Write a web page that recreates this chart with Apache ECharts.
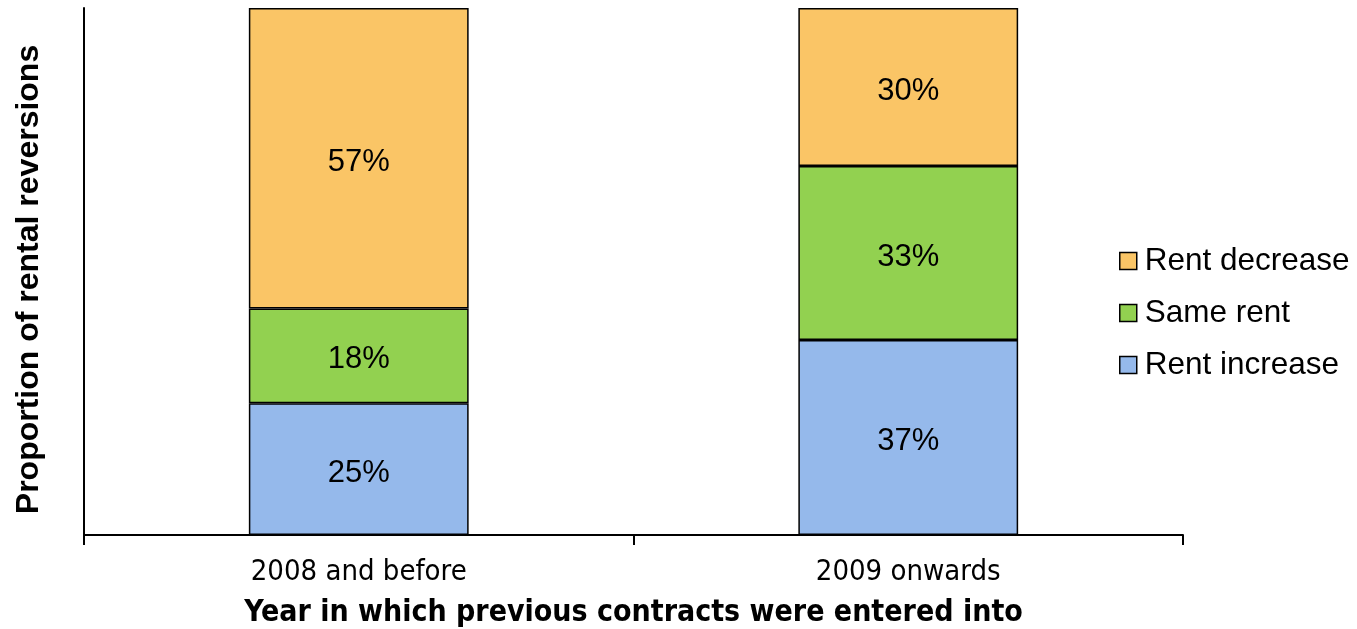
<!DOCTYPE html>
<html>
<head>
<meta charset="utf-8">
<script src="https://cdn.jsdelivr.net/npm/echarts@6/dist/echarts.min.js"></script>
<style>
html,body{margin:0;padding:0;background:#fff;}
#chart{width:1357px;height:629px;}
</style>
</head>
<body>
<div id="chart"></div>
<script>
const categories = ['2008 and before', '2009 onwards'];
const rentIncrease = [25, 37];
const sameRent = [18, 33];
const rentDecrease = [57, 30];
const seriesNames = ['Rent increase', 'Same rent', 'Rent decrease'];
const seriesColors = ['#95B9EB', '#92D150', '#FAC566'];

const chart = echarts.init(document.getElementById('chart'));
const narrow = "'Liberation Sans Narrow', 'Arial Narrow', 'DejaVu Sans Condensed', sans-serif";
const regular = "'Liberation Sans', Arial, sans-serif";

function makeSeries(name, data, color) {
  return {
    name: name,
    type: 'bar',
    stack: 'total',
    data: data,
    barWidth: '40%',
    itemStyle: { color: color, borderColor: '#000', borderWidth: 1.5 },
    label: {
      show: true,
      position: 'inside',
      offset: [0, 4],
      formatter: '{c}%',
      color: '#000',
      fontFamily: regular,
      fontSize: 31
    }
  };
}

chart.setOption({
  animation: false,
  backgroundColor: '#fff',
  grid: { left: 84, right: 174, top: 8, bottom: 94, containLabel: false, outerBoundsMode: 'none' },
  legend: {
    orient: 'vertical',
    left: 1114,
    top: 240,
    data: ['Rent decrease', 'Same rent', 'Rent increase'],
    icon: 'rect',
    itemWidth: 17,
    itemHeight: 17,
    itemGap: 20,
    itemStyle: { borderColor: '#000', borderWidth: 1.5 },
    textStyle: { fontFamily: regular, fontSize: 31.5, color: '#000', padding: [0, 0, 0, 3] }
  },
  xAxis: {
    type: 'category',
    data: categories,
    name: 'Year in which previous contracts were entered into',
    nameLocation: 'middle',
    nameGap: 63,
    nameTextStyle: { fontFamily: narrow, fontWeight: 'bold', fontSize: 30, color: '#000' },
    axisLine: { lineStyle: { color: '#000', width: 2 } },
    axisTick: { show: true, length: 10, lineStyle: { color: '#000', width: 2 } },
    axisLabel: { fontFamily: narrow, fontSize: 29, color: '#000', margin: 23 }
  },
  yAxis: {
    type: 'value',
    min: 0,
    max: 100,
    name: 'Proportion of rental reversions',
    nameLocation: 'middle',
    nameGap: 39,
    nameTextStyle: { fontFamily: regular, fontWeight: 'bold', fontSize: 32, color: '#000', padding: [0, 16, 0, 0] },
    axisLine: { show: true, lineStyle: { color: '#000', width: 2 } },
    axisTick: { show: false },
    axisLabel: { show: false },
    splitLine: { show: false }
  },
  series: [
    makeSeries(seriesNames[0], rentIncrease, seriesColors[0]),
    makeSeries(seriesNames[1], sameRent, seriesColors[1]),
    makeSeries(seriesNames[2], rentDecrease, seriesColors[2])
  ]
});
</script>
</body>
</html>
